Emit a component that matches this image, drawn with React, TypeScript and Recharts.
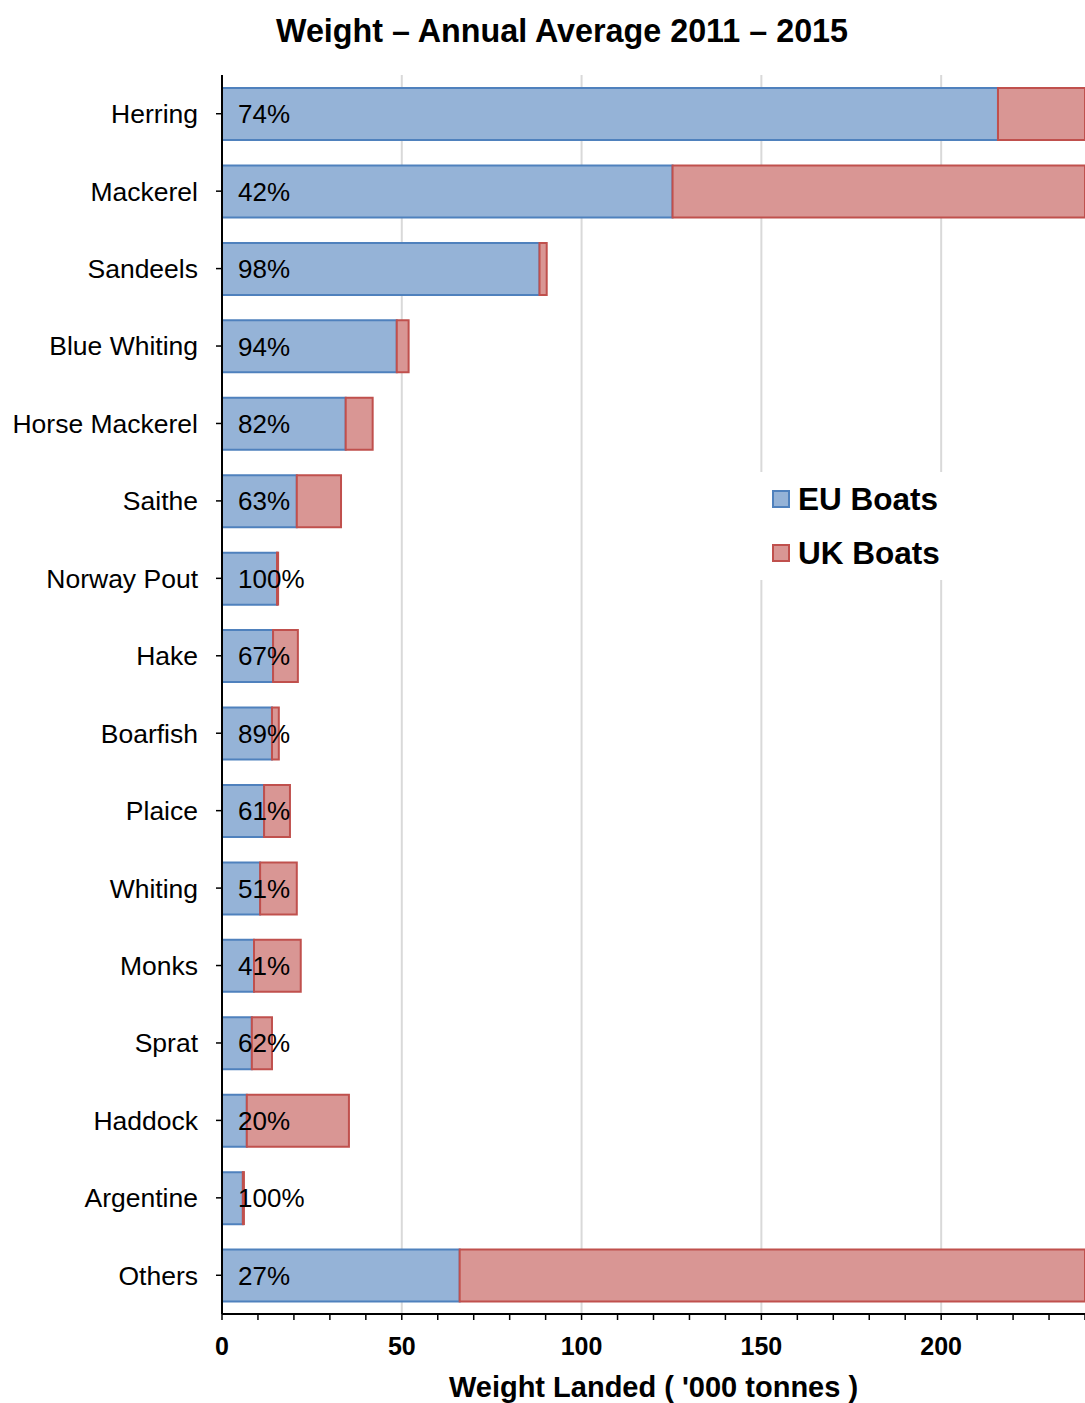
import React from 'react';
import { BarChart, Bar, XAxis, YAxis, CartesianGrid, Legend, LabelList, Label } from 'recharts';

const categories = ['Herring', 'Mackerel', 'Sandeels', 'Blue Whiting', 'Horse Mackerel', 'Saithe', 'Norway Pout', 'Hake', 'Boarfish', 'Plaice', 'Whiting', 'Monks', 'Sprat', 'Haddock', 'Argentine', 'Others'];
const euBoats = [215.8, 125.3, 88.3, 48.6, 34.4, 20.8, 15.3, 14.2, 13.9, 11.7, 10.6, 8.9, 8.3, 6.9, 5.8, 66.1];
const ukBoats = [75.8, 173.0, 2.0, 3.3, 7.5, 12.3, 0.3, 6.9, 1.9, 7.2, 10.2, 13.0, 5.6, 28.4, 0.3, 178.7];
const euShare = [74, 42, 98, 94, 82, 63, 100, 67, 89, 61, 51, 41, 62, 20, 100, 27];
const xTicks = [0, 10, 20, 30, 40, 50, 60, 70, 80, 90, 100, 110, 120, 130, 140, 150, 160, 170, 180, 190, 200, 210, 220, 230, 240];
const gridValues = [50, 100, 150, 200];
const seriesNames = ['EU Boats', 'UK Boats'];

const FONT = '"Liberation Sans", Arial, Helvetica, sans-serif';
const EU_FILL = '#95b3d7';
const EU_STROKE = '#4f81bd';
const UK_FILL = '#d99694';
const UK_STROKE = '#c0504d';

const data = categories.map((name, i) => ({ name, eu: euBoats[i], uk: ukBoats[i], pct: euShare[i] }));

const legendItems = [
  { name: seriesNames[0], fill: EU_FILL, stroke: EU_STROKE },
  { name: seriesNames[1], fill: UK_FILL, stroke: UK_STROKE },
];

const renderLegend = () => (
  <div style={{ background: '#fff', width: 185, height: 108, fontFamily: FONT }}>
    {legendItems.map((it) => (
      <div key={it.name} style={{ height: 54, display: 'flex', alignItems: 'center', paddingLeft: 13 }}>
        <div style={{ width: 18, height: 18, boxSizing: 'border-box', background: it.fill, border: `2px solid ${it.stroke}`, marginRight: 8, flexShrink: 0 }} />
        <span style={{ fontSize: 31.5, fontWeight: 'bold', color: '#000', whiteSpace: 'nowrap' }}>{it.name}</span>
      </div>
    ))}
  </div>
);

export default function App() {
  return (
    <div style={{ position: 'relative', width: 1085, height: 1403, fontFamily: FONT }}>
      <style>{'html, body { margin: 0; padding: 0; }'}</style>
      <BarChart
        layout="vertical"
        width={1085}
        height={1403}
        data={data}
        margin={{ top: 75, right: 0, left: 0, bottom: 0 }}
        barSize={52}
        style={{ fontFamily: FONT }}
      >
        <CartesianGrid horizontal={false} verticalValues={gridValues} stroke="#d9d9d9" strokeWidth={2} />
        <XAxis
          type="number"
          domain={[0, 240]}
          allowDataOverflow
          ticks={xTicks}
          interval={0}
          tickFormatter={(v: number) => (v % 50 === 0 ? String(v) : '')}
          tick={{ fontSize: 25, fontWeight: 'bold', fill: '#000' }}
          tickSize={6}
          tickMargin={17}
          tickLine={{ stroke: '#000', strokeWidth: 1.5 }}
          axisLine={{ stroke: '#000', strokeWidth: 2 }}
          height={89}
        >
          <Label
            value="Weight Landed ( '000 tonnes )"
            position="insideBottom"
            offset={6}
            style={{ fontSize: 29, fontWeight: 'bold', fill: '#000' }}
          />
        </XAxis>
        <YAxis
          type="category"
          dataKey="name"
          width={222}
          interval={0}
          tick={{ fontSize: 26.5, fill: '#000' }}
          tickSize={6}
          tickMargin={18}
          tickLine={{ stroke: '#000', strokeWidth: 1.5 }}
          axisLine={{ stroke: '#000', strokeWidth: 2 }}
        />
        <Legend
          layout="vertical"
          align="center"
          verticalAlign="middle"
          wrapperStyle={{ left: 759, top: 472, width: 185, height: 108 }}
          content={renderLegend}
        />
        <Bar dataKey="eu" name={seriesNames[0]} stackId="a" fill={EU_FILL} stroke={EU_STROKE} strokeWidth={2} isAnimationActive={false}>
          <LabelList
            dataKey="pct"
            position="insideLeft"
            offset={16}
            fill="#000"
            formatter={(v: number) => `${v}%`}
            style={{ fontSize: 26, fill: '#000' }}
          />
        </Bar>
        <Bar dataKey="uk" name={seriesNames[1]} stackId="a" fill={UK_FILL} stroke={UK_STROKE} strokeWidth={2} isAnimationActive={false} />
      </BarChart>
      <div
        style={{
          position: 'absolute',
          left: 562,
          top: 15,
          transform: 'translateX(-50%)',
          fontSize: 32.3,
          lineHeight: '32px',
          fontWeight: 'bold',
          whiteSpace: 'nowrap',
          color: '#000',
        }}
      >
        Weight – Annual Average 2011 – 2015
      </div>
    </div>
  );
}
